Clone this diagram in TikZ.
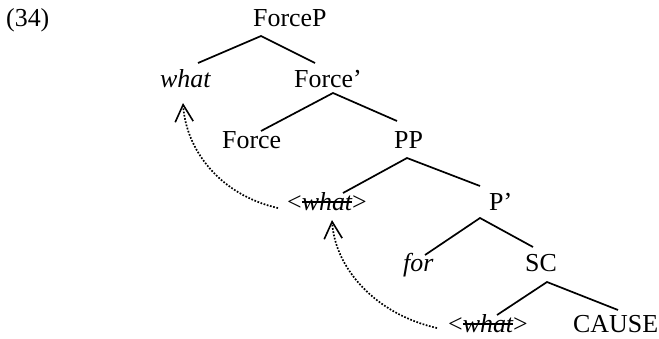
\documentclass[tikz,border=0pt]{standalone}
\usepackage{fontspec}
\setmainfont{Liberation Serif}
\usetikzlibrary{arrows.meta}
% a trace: the word with a bar through it
\newcommand\struckword[1]{\setbox0\hbox{#1}\rlap{\rule[0.27em]{\wd0}{1.6bp}}\box0}
\begin{document}
\begin{tikzpicture}[x=1bp,y=-1bp,
  lbl/.style={anchor=base west,inner sep=0pt,font=\fontsize{26}{31}\selectfont},
  branch/.style={line width=1.7bp},
  move/.style={line width=1.7bp,dash pattern=on 1.7bp off 1.6bp,
    -{Straight Barb[length=17bp,width=18bp,line width=1.6bp]}}]
\useasboundingbox (0,0) rectangle (659,338);

% labels
\node[lbl] (ex)     at (6,26)    {(34)};
\node[lbl] (ForceP) at (253,26)  {ForceP};
\node[lbl] (what)   at (160,87)  {\itshape what};
\node[lbl] (Fbar)   at (294,87)  {Force’};
\node[lbl] (Force)  at (222,148) {Force};
\node[lbl] (PP)     at (394,148) {PP};
\node[lbl] (trA)    at (287,210) {<\struckword{\itshape what}>};
\node[lbl] (Pbar)   at (489,210) {P’};
\node[lbl] (for)    at (403,271) {\itshape for};
\node[lbl] (SC)     at (525,271) {SC};
\node[lbl] (trB)    at (448,332) {<\struckword{\itshape what}>};
\node[lbl] (CAUSE)  at (573,332) {CAUSE};

% branch points: apex under each mother, ends above each daughter
\coordinate (ForceP-a) at (261,36);
\coordinate (what-t)   at (198,63);
\coordinate (Fbar-t)   at (315,63);
\coordinate (Fbar-a)   at (333,93);
\coordinate (Force-t)  at (261,131);
\coordinate (PP-t)     at (397,121);
\coordinate (PP-a)     at (407,158);
\coordinate (trA-t)    at (343,193);
\coordinate (Pbar-t)   at (480,186);
\coordinate (Pbar-a)   at (480,218);
\coordinate (for-t)    at (425,255);
\coordinate (SC-t)     at (533,247);
\coordinate (SC-a)     at (547,282);
\coordinate (trB-t)    at (497,315);
\coordinate (CAUSE-t)  at (618,310);

\draw[branch] (what-t) -- (ForceP-a) -- (Fbar-t);
\draw[branch] (Force-t) -- (Fbar-a) -- (PP-t);
\draw[branch] (trA-t) -- (PP-a) -- (Pbar-t);
\draw[branch] (for-t) -- (Pbar-a) -- (SC-t);
\draw[branch] (trB-t) -- (SC-a) -- (CAUSE-t);

% movement arrows
\coordinate (trA-m)  at (278,208);
\coordinate (what-b) at (183,103);
\coordinate (trB-m)  at (437,328);
\coordinate (trA-b)  at (332,220);
\draw[move] (trA-m) .. controls (220,195) and (186,150) .. (what-b);
\draw[move] (trB-m) .. controls (375,314) and (335,268) .. (trA-b);
\end{tikzpicture}
\end{document}
